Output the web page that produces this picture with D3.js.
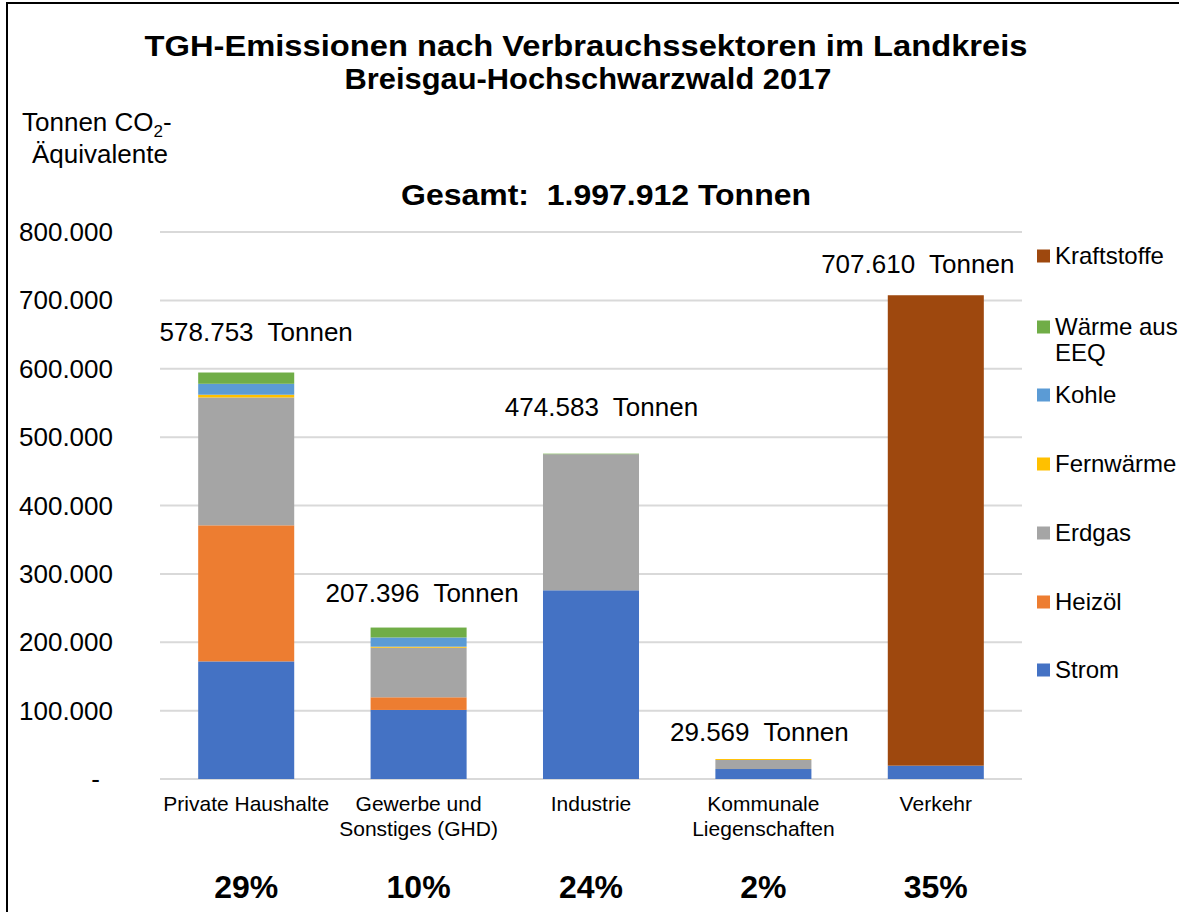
<!DOCTYPE html>
<html><head><meta charset="utf-8">
<script src="https://cdn.jsdelivr.net/npm/d3@7"></script>
<style>body{margin:0;background:#fff}svg{display:block}text{font-family:"Liberation Sans",Arial,sans-serif;fill:#000}</style>
</head><body>
<svg id="c" width="1179" height="912"></svg>
<script>
const categories = [["Private Haushalte"],["Gewerbe und","Sonstiges (GHD)"],["Industrie"],["Kommunale","Liegenschaften"],["Verkehr"]];
const seriesNames = ["Strom","Heizöl","Erdgas","Fernwärme","Kohle","Wärme aus EEQ","Kraftstoffe"];
const strom       = [172000, 101000, 276000, 14600, 19500];
const heizoel     = [199000, 18500, 0, 0, 0];
const erdgas      = [187000, 72500, 199000, 13200, 0];
const fernwaerme  = [4000, 1500, 0, 1400, 0];
const kohle       = [16000, 13500, 0, 0, 0];
const waermeEEQ   = [16500, 14500, 800, 0, 0];
const kraftstoffe = [0, 0, 0, 0, 688000];
const totalLabels = ["578.753\u00A0 Tonnen","207.396\u00A0 Tonnen","474.583\u00A0 Tonnen","29.569\u00A0 Tonnen","707.610\u00A0 Tonnen"];
const percentLabels = ["29%","10%","24%","2%","35%"];
const yTicks = [0,100000,200000,300000,400000,500000,600000,700000,800000];
const colors = ["#4472C4","#ED7D31","#A5A5A5","#FFC000","#5B9BD5","#70AD47","#9E480E"];

const seriesValues = [strom, heizoel, erdgas, fernwaerme, kohle, waermeEEQ, kraftstoffe];
const rows = categories.map((c,i)=>{const r={key:i}; seriesNames.forEach((s,j)=>r[s]=seriesValues[j][i]); return r;});

const svg = d3.select("#c");
svg.append("rect").attr("x",7).attr("y",3).attr("width",1200).attr("height",920).attr("fill","#fff").attr("stroke","#000").attr("stroke-width",2);

const x = d3.scaleBand().domain(d3.range(categories.length)).range([160,1022]).paddingInner(0.443).paddingOuter(0.2215);
const y = d3.scaleLinear().domain([0,800000]).range([779,232]);

// gridlines
svg.append("g").selectAll("line").data(yTicks).join("line")
  .attr("x1",160).attr("x2",1022).attr("y1",d=>y(d)).attr("y2",d=>y(d))
  .attr("stroke","#d9d9d9").attr("stroke-width",2);

// y axis labels
const fmt = d => d===0 ? "-" : d3.format(",")(d).replace(/,/g,".");
svg.append("g").selectAll("text").data(yTicks).join("text")
  .attr("x",d=>d===0?100:113).attr("y",d=>y(d)).attr("dy","0.35em").attr("text-anchor","end")
  .style("font-size","26px").text(fmt);

// stacked bars
const stack = d3.stack().keys(seriesNames)(rows);
svg.append("g").selectAll("g").data(stack).join("g").attr("fill",(d,i)=>colors[i])
  .selectAll("rect").data(d=>d).join("rect")
  .attr("x",d=>x(d.data.key)).attr("width",x.bandwidth())
  .attr("y",d=>y(d[1])).attr("height",d=>y(d[0])-y(d[1]));

// total labels (manually placed in original)
const labelOffset = [[10,-32],[3.5,-26],[10.5,-38],[-4,-18],[-18,-22]];
const tops = rows.map(r=>d3.sum(seriesNames,s=>r[s]));
svg.append("g").selectAll("text").data(totalLabels).join("text")
  .attr("x",(d,i)=>x(i)+x.bandwidth()/2+labelOffset[i][0])
  .attr("y",(d,i)=>y(tops[i])+labelOffset[i][1])
  .attr("text-anchor","middle").style("font-size","26px").text(d=>d);

// category labels
const cat = svg.append("g").selectAll("text").data(categories).join("text")
  .attr("x",(d,i)=>x(i)+x.bandwidth()/2).attr("y",811).attr("text-anchor","middle").style("font-size","21px");
cat.selectAll("tspan").data(d=>d).join("tspan").attr("x",function(){return this.parentNode.getAttribute("x");})
  .attr("dy",(d,i)=>i===0?0:25).text(d=>d);

// percentages
svg.append("g").selectAll("text").data(percentLabels).join("text")
  .attr("x",(d,i)=>x(i)+x.bandwidth()/2).attr("y",898).attr("text-anchor","middle")
  .style("font-size","32px").style("font-weight","bold").text(d=>d);

// titles
svg.append("text").attr("x",586).attr("y",56).attr("text-anchor","middle").style("font-size","29px").style("font-weight","bold")
  .attr("textLength",883).attr("lengthAdjust","spacingAndGlyphs")
  .text("TGH-Emissionen nach Verbrauchssektoren im Landkreis");
svg.append("text").attr("x",588).attr("y",89).attr("text-anchor","middle").style("font-size","29px").style("font-weight","bold")
  .attr("textLength",487).attr("lengthAdjust","spacingAndGlyphs")
  .text("Breisgau-Hochschwarzwald 2017");
svg.append("text").attr("x",606).attr("y",205).attr("text-anchor","middle").style("font-size","30px").style("font-weight","bold")
  .attr("textLength",410).attr("lengthAdjust","spacingAndGlyphs")
  .text("Gesamt:\u00A0 1.997.912 Tonnen");

// y axis title
const yt = svg.append("text").attr("x",22).attr("y",131).style("font-size","26px");
yt.append("tspan").text("Tonnen CO");
yt.append("tspan").attr("dy",6).style("font-size","17px").text("2");
yt.append("tspan").attr("dy",-6).text("-");
svg.append("text").attr("x",32).attr("y",163).style("font-size","26px").text("Äquivalente");

// legend
const legendOrder = [6,5,4,3,2,1,0];
const legendY = [256,327,395,464,533,602,670];
const lg = svg.append("g").selectAll("g").data(legendOrder).join("g")
  .attr("transform",(d,i)=>`translate(1037,${legendY[i]})`);
lg.append("rect").attr("x",0).attr("y",-6.5).attr("width",13).attr("height",13).attr("fill",d=>colors[d]);
lg.each(function(d){
  const t = d3.select(this).append("text").attr("x",18).attr("y",0).attr("dy","0.35em").style("font-size","24px");
  if(seriesNames[d]==="Wärme aus EEQ"){
    t.append("tspan").attr("x",18).text("Wärme aus");
    t.append("tspan").attr("x",18).attr("dy",26).text("EEQ");
  } else t.text(seriesNames[d]);
});
</script>
</body></html>
